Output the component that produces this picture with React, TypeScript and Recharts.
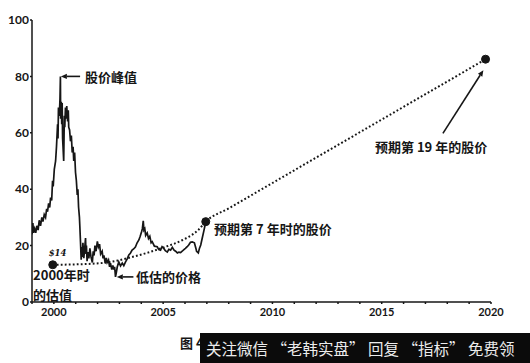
import { ComposedChart, Line, XAxis, YAxis, ReferenceDot, ReferenceLine } from "recharts"

// share price (year, price)
const PRICE_YEARS = [
  1999.0, 1999.04, 1999.07, 1999.12, 1999.17, 1999.22, 1999.28, 1999.33, 1999.39, 1999.45,
  1999.5, 1999.56, 1999.62, 1999.67, 1999.71, 1999.76, 1999.81, 1999.85, 1999.9, 1999.94,
  1999.97, 2000.02, 2000.08, 2000.12, 2000.17, 2000.19, 2000.21, 2000.25, 2000.28, 2000.3,
  2000.31, 2000.34, 2000.36, 2000.38, 2000.4, 2000.42, 2000.45, 2000.48, 2000.5, 2000.53,
  2000.56, 2000.59, 2000.63, 2000.66, 2000.68, 2000.72, 2000.76, 2000.8, 2000.84, 2000.88,
  2000.91, 2000.95, 2000.99, 2001.03, 2001.07, 2001.1, 2001.13, 2001.17, 2001.19, 2001.22,
  2001.25, 2001.28, 2001.3, 2001.33, 2001.37, 2001.41, 2001.45, 2001.47, 2001.49, 2001.52,
  2001.55, 2001.6, 2001.65, 2001.7, 2001.76, 2001.8, 2001.84, 2001.88, 2001.93, 2001.99,
  2002.04, 2002.09, 2002.14, 2002.21, 2002.25, 2002.29, 2002.35, 2002.4, 2002.44, 2002.5,
  2002.55, 2002.59, 2002.65, 2002.7, 2002.74, 2002.78, 2002.82, 2002.86, 2002.9, 2002.97,
  2003.05, 2003.13, 2003.2, 2003.28, 2003.35, 2003.43, 2003.5, 2003.58, 2003.65, 2003.73,
  2003.81, 2003.89, 2003.95, 2004.01, 2004.05, 2004.09, 2004.12, 2004.16, 2004.2, 2004.27,
  2004.33, 2004.39, 2004.45, 2004.5, 2004.6, 2004.73, 2004.8, 2004.88, 2004.95, 2005.03,
  2005.1, 2005.19, 2005.26, 2005.34, 2005.42, 2005.5, 2005.57, 2005.65, 2005.72, 2005.8,
  2005.87, 2005.95, 2006.02, 2006.1, 2006.17, 2006.25, 2006.33, 2006.43, 2006.5, 2006.53,
  2006.61, 2006.66, 2006.72, 2006.79, 2006.87, 2006.95,
]
const PRICE_VALUES = [
  24, 28, 24.5, 26, 24.5, 27, 25.5, 29, 27, 30,
  28.5, 31, 30, 33, 32, 35, 33.5, 37, 36, 43,
  41, 47, 50, 55, 63, 58, 69, 66, 72, 80,
  65, 71, 63, 70.6, 58, 55, 50, 66, 62, 69,
  65, 69.5, 64, 68, 62, 61, 57, 59, 53, 55,
  50, 53, 46, 43, 38, 40, 33.7, 30, 26.6, 21,
  15, 19.5, 16, 21, 15.5, 19, 22.7, 17, 20, 14.5,
  17.7, 15.5, 19, 16, 14, 18, 16.5, 20, 18, 21.5,
  19.5, 20.5, 17, 18, 15.5, 16.5, 13.8, 15.6, 14, 14.9,
  12.5, 13.8, 11.5, 13, 11.5, 12.5, 8.9, 10.5, 12.4, 14.2,
  12.8, 13.8, 12.9, 14.2, 15.2, 16.7, 17.3, 18.4, 18.8, 19.5,
  21, 22, 23.3, 24.8, 26, 28.8, 25.5, 26, 23.6, 24.5,
  22.5, 23.3, 21, 21.4, 19.8, 19.6, 18.6, 18.4, 19.6, 19,
  18.2, 17.7, 18.7, 18.4, 19.4, 18.4, 18, 17.4, 17.7, 17.5,
  18, 18.6, 19, 19.6, 20.2, 21.2, 21.3, 21, 19, 18,
  17.4, 19, 20.2, 22.7, 25.5, 28.4,
]

// dotted valuation path
const TREND_YEARS = [
  1999.95, 2001.25, 2002.59, 2003.4, 2004.3, 2005.0, 2005.9, 2006.6, 2006.95,
  2008, 2009, 2010, 2011, 2012, 2013, 2014, 2015, 2016, 2017, 2018, 2019, 2019.75,
]
const TREND_VALUES = [
  13.2, 13.4, 14.2, 15.6, 17.5, 19.3, 22, 25.5, 28.5,
  33.2, 37.7, 42.2, 46.7, 51.2, 55.7, 60.2, 64.7, 69.2, 73.7, 78.2, 82.7, 86.1,
]

const MARK_YEARS = [1999.95, 2006.95, 2019.75]
const MARK_VALUES = [13.2, 28.5, 86.1]

const YEAR_TICKS = [
  1999, 2000, 2001, 2002, 2003, 2004, 2005, 2006, 2007, 2008, 2009,
  2010, 2011, 2012, 2013, 2014, 2015, 2016, 2017, 2018, 2019, 2020,
]
const VALUE_TICKS = [0, 20, 40, 60, 80, 100]

const NOTES = [
  { text: "股价峰值", x: 2001.42, y: 79.8, size: 13 },
  { text: "2000年时", x: 1999.05, y: 9.8, size: 13 },
  { text: "的估值", x: 1999.05, y: 2.6, size: 13 },
  { text: "低估的价格", x: 2003.76, y: 8.9, size: 13 },
  { text: "预期第 7 年时的股价", x: 2007.33, y: 26.2, size: 13 },
  { text: "预期第 19 年的股价", x: 2014.69, y: 55, size: 13 },
]

const ARROWS = [
  { x1: 2001.2, y1: 80, x2: 2000.32, y2: 80 },
  { x1: 2003.64, y1: 8.9, x2: 2002.88, y2: 8.9 },
  { x1: 2017.8, y1: 59.8, x2: 2019.65, y2: 82.2 },
]

const priceData = PRICE_YEARS.map((year, i) => ({ year, price: PRICE_VALUES[i] }))
const trendData = TREND_YEARS.map((year, i) => ({ year, trend: TREND_VALUES[i] }))

const INK = "#161616"
const TICK_FONT = "Lato, 'DejaVu Sans', sans-serif"
const CJK_FONT = "'Noto Sans CJK SC', sans-serif"

function Arrow(props: any) {
  const { x1, y1, x2, y2 } = props
  const a = Math.atan2(y2 - y1, x2 - x1)
  const len = 6
  const w = 2.6
  const bx = x2 - len * Math.cos(a)
  const by = y2 - len * Math.sin(a)
  const pts = `${x2},${y2} ${bx + w * Math.sin(a)},${by - w * Math.cos(a)} ${bx - w * Math.sin(a)},${by + w * Math.cos(a)}`
  return (
    <g>
      <line x1={x1} y1={y1} x2={bx} y2={by} stroke={INK} strokeWidth={1.6} />
      <polygon points={pts} fill={INK} />
    </g>
  )
}

export default function App() {
  return (
    <div style={{ position: "absolute", left: 0, top: 0, width: 530, height: 363, background: "#fff", overflow: "hidden" }}>
      <ComposedChart width={530} height={330} margin={{ top: 20, right: 0, bottom: 0, left: 0 }}>
        <XAxis
          dataKey="year"
          type="number"
          domain={[1999, 2020]}
          allowDataOverflow
          ticks={YEAR_TICKS}
          interval={0}
          tickFormatter={(v) => (v % 5 === 0 ? String(v) : "")}
          tick={{ fill: INK, fontSize: 11, fontWeight: 700, fontFamily: TICK_FONT }}
          tickSize={2}
          tickMargin={4}
          height={28}
          stroke={INK}
          strokeWidth={1.5}
        />
        <YAxis
          domain={[0, 100]}
          ticks={VALUE_TICKS}
          width={32}
          tick={{ fill: INK, fontSize: 12, fontWeight: 700, fontFamily: TICK_FONT }}
          tickSize={2}
          tickMargin={1}
          stroke={INK}
          strokeWidth={1.5}
        />
        <YAxis
          yAxisId="right"
          orientation="right"
          domain={[0, 100]}
          ticks={VALUE_TICKS}
          width={39}
          axisLine={false}
          tickLine={false}
          tickSize={0}
          tickMargin={3}
          tick={{ fill: INK, fontSize: 11, fontWeight: 700, fontFamily: TICK_FONT }}
        />

        <Line
          data={trendData}
          dataKey="trend"
          type="monotone"
          stroke={INK}
          strokeWidth={2}
          strokeDasharray="1.8 2.2"
          dot={false}
          isAnimationActive={false}
        />
        <Line
          data={priceData}
          dataKey="price"
          type="linear"
          stroke={INK}
          strokeWidth={1.7}
          dot={false}
          isAnimationActive={false}
        />

        {MARK_YEARS.map((x, i) => (
          <ReferenceDot key={i} x={x} y={MARK_VALUES[i]} r={4} fill={INK} stroke={INK} />
        ))}

        {ARROWS.map((a, i) => (
          <ReferenceLine
            key={i}
            segment={[{ x: a.x1, y: a.y1 }, { x: a.x2, y: a.y2 }]}
            shape={(p: any) => <Arrow {...p} />}
          />
        ))}

        <ReferenceDot
          x={2000.17}
          y={17.4}
          r={0}
          shape={(p: any) => (
            <text x={p.cx} y={p.cy} textAnchor="middle" dominantBaseline="central"
              fontSize={8.5} fontStyle="italic" fontWeight={700} fontFamily="'DejaVu Serif', serif" fill={INK}>
              $14
            </text>
          )}
        />

        {NOTES.map((n, i) => (
          <ReferenceDot
            key={i}
            x={n.x}
            y={n.y}
            r={0}
            shape={(p: any) => (
              <text x={p.cx} y={p.cy} dominantBaseline="central" fontSize={n.size}
                fontWeight={700} fontFamily={CJK_FONT} fill={INK}>
                {n.text}
              </text>
            )}
          />
        ))}
      </ComposedChart>

      <div style={{ position: "absolute", left: 180, top: 333, fontFamily: CJK_FONT, fontWeight: 700, fontSize: 13, color: INK }}>
        图 4
      </div>
      <div style={{ position: "absolute", left: 200, top: 333, width: 330, height: 30, background: "#0b0b0b",
        color: "#ececec", fontFamily: CJK_FONT, fontSize: 15.5, lineHeight: "30px", whiteSpace: "nowrap", paddingLeft: 6, boxSizing: "border-box" }}>
        关注微信 “老韩实盘” 回复 “指标” 免费领
      </div>
    </div>
  )
}
